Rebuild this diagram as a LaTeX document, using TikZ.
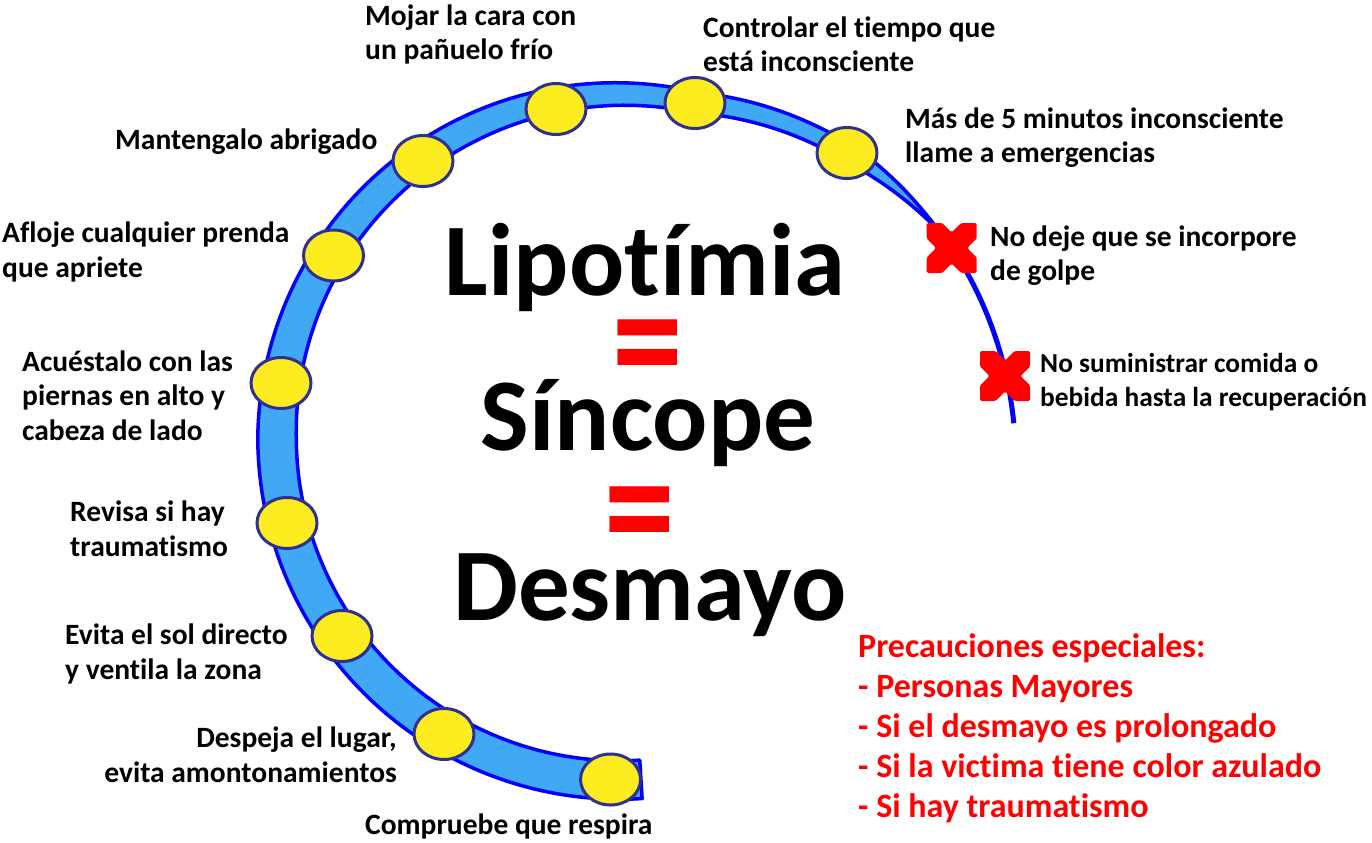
\documentclass[tikz,border=0pt]{standalone}
\usepackage{fontspec}
\setmainfont{Carlito}[Ligatures={NoCommon}]
\usetikzlibrary{shapes.geometric}
\definecolor{bandfill}{RGB}{64,168,245}
\definecolor{bandline}{RGB}{0,0,255}
\definecolor{dotfill}{RGB}{252,236,32}
\definecolor{dotline}{RGB}{46,49,146}
\definecolor{xred}{RGB}{255,0,0}
\tikzset{
  xmark/.pic={\fill[xred,rounded corners=1.5bp] (0,-15.5) -- (9.5,-25) -- (25,-25) -- (25,-9.5) -- (15.5,0) -- (25,9.5) -- (25,25) -- (9.5,25) -- (0,15.5) -- (-9.5,25) -- (-25,25) -- (-25,9.5) -- (-15.5,0) -- (-25,-9.5) -- (-25,-25) -- (-9.5,-25) -- cycle;}
}
\begin{document}
\begin{tikzpicture}[x=1bp,y=-1bp,
  declare function={
    rr(\t)=343+max(0,min((77-\t)*0.83,39))+max(0,(30-\t)*0.43);
    th(\t)=ifthenelse(\t>=180,42,ifthenelse(\t>=90,26+(\t-90)*0.1778,ifthenelse(\t>=50,20+(\t-50)*0.15,3.5+(\t-33)*0.97)));
    hw(\t)=th(\t)/2-1.75;
  },
  stopdot/.style={ellipse,draw=dotline,fill=dotfill,line width=3bp,minimum width=60bp,minimum height=51bp,inner sep=0pt},
  lbl/.style={font=\bfseries\fontsize{29.5bp}{34.5bp}\selectfont,inner sep=0pt,align=left,anchor=base west},
  smalllbl/.style={lbl,font=\bfseries\fontsize{27.4bp}{33.5bp}\selectfont},
  redlbl/.style={font=\bfseries\fontsize{34bp}{40bp}\selectfont,text=xred,inner sep=0pt,align=left,anchor=base west},
  bigword/.style={font=\bfseries\fontsize{103bp}{103bp}\selectfont,inner sep=0pt,anchor=base},
  eqsign/.style={font=\bfseries\fontsize{120bp}{120bp}\selectfont,text=xred,inner sep=0pt,anchor=center}
]
\fill[white] (0,0) rectangle (1372,842);
\useasboundingbox (0,0) rectangle (1372,842);

% tapered band
\filldraw[fill=bandfill,draw=bandline,line width=3.5bp,line join=round]
  plot[domain=273.5:33,samples=180,variable=\t] ({620+(rr(\t)+hw(\t))*cos(\t)},{437-(rr(\t)+hw(\t))*sin(\t)})
  -- plot[domain=33:273.5,samples=180,variable=\t] ({620+(rr(\t)-hw(\t))*cos(\t)},{437-(rr(\t)-hw(\t))*sin(\t)})
  -- cycle;
\draw[bandline,line width=5bp] plot[domain=36:2,samples=60,variable=\t] ({620+rr(\t)*cos(\t)},{437-rr(\t)*sin(\t)});

% stops
\node[stopdot] (d1) at (610.5,779.5) {};
\node[stopdot] (d2) at (444,734) {};
\node[stopdot] (d3) at (342,636) {};
\node[stopdot] (d4) at (287,523) {};
\node[stopdot] (d5) at (281,383) {};
\node[stopdot] (d6) at (333.5,255.5) {};
\node[stopdot] (d7) at (423,161) {};
\node[stopdot] (d8) at (556,109) {};
\node[stopdot] (d9) at (695,103) {};
\node[stopdot] (d10) at (847,153) {};

% crosses
\pic at (951.7,248) {xmark};
\pic at (1005,376) {xmark};

% labels (anchor = baseline of the last line)
\node[lbl] (t8) at (365,59.5) {Mojar la cara con\\un pañuelo frío};
\node[lbl] (t9) at (703,71.5) {Controlar el tiempo que\\está inconsciente};
\node[lbl] (t10) at (905,162.5) {Más de 5 minutos inconsciente\\llame a emergencias};
\node[lbl] (tx1) at (990,280.5) {No deje que se incorpore\\de golpe};
\node[smalllbl] (tx2) at (1040,406) {No suministrar comida o\\bebida hasta la recuperación};
\node[lbl] (t7) at (115,149) {Mantengalo abrigado};
\node[lbl] (t6) at (2,277) {Afloje cualquier prenda\\que apriete};
\node[lbl] (t5) at (22,440) {Acuéstalo con las\\piernas en alto y\\cabeza de lado};
\node[lbl] (t4) at (70,556) {Revisa si hay\\traumatismo};
\node[lbl] (t3) at (65,679) {Evita el sol directo\\y ventila la zona};
\node[lbl,align=right,anchor=base east] (t2) at (397,782) {Despeja el lugar,\\evita amontonamientos};
\node[lbl] (t1) at (365,834) {Compruebe que respira};

% title
\node[bigword] (w1) at (645,295) {Lipotímia};
\node[eqsign] (e1) at (648,359.6) {\scalebox{1.18}[1.47]{=}};
\node[bigword] (w2) at (648,450) {Síncope};
\node[eqsign] (e2) at (640,526) {\scalebox{1.18}[1.47]{=}};
\node[bigword] (w3) at (650,620) {Desmayo};

% precautions
\node[redlbl] (p1) at (858,817) {Precauciones especiales:\\- Personas Mayores\\- Si el desmayo es prolongado\\- Si la victima tiene color azulado\\- Si hay traumatismo};
\end{tikzpicture}
\end{document}
